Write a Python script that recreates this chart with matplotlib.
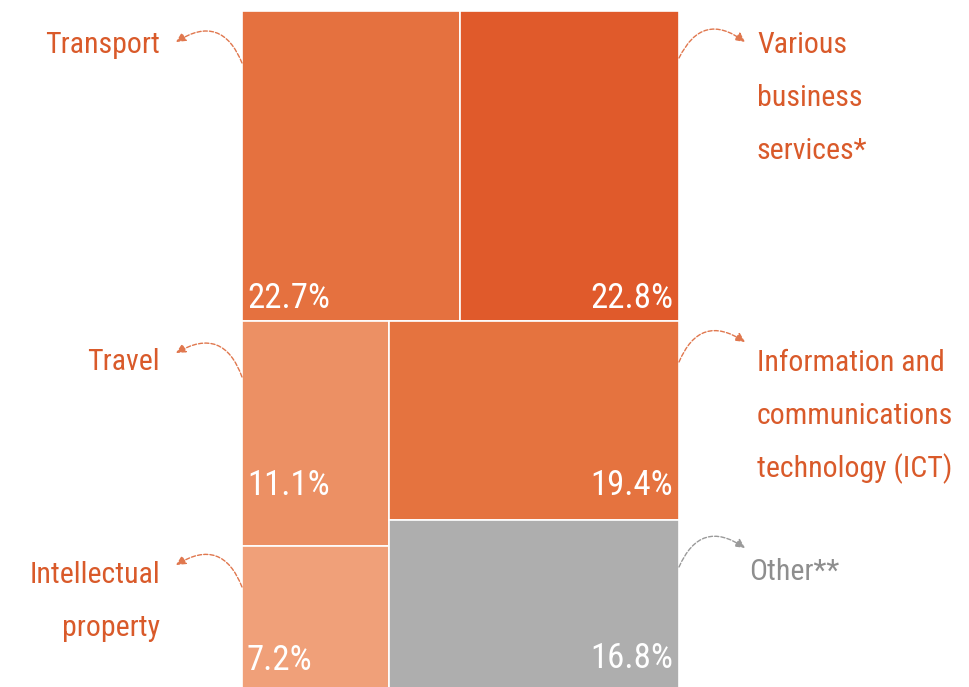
import matplotlib
matplotlib.use("Agg")
import matplotlib.pyplot as plt
from matplotlib import font_manager
from matplotlib.patches import Rectangle

# share of services exports by category (%)
categories = ["Transport", "Various business services*", "Travel",
              "Information and communications technology (ICT)",
              "Intellectual property", "Other**"]
shares = [22.7, 22.8, 11.1, 19.4, 7.2, 16.8]
label_lines = [["Transport"], ["Various", "business", "services*"], ["Travel"],
               ["Information and", "communications", "technology (ICT)"],
               ["Intellectual", "property"], ["Other**"]]
tile_colors = ["#E5713F", "#E05A2B", "#EC9064", "#E5733F", "#F0A079", "#AEAEAE"]
label_colors = ["#D95A2A", "#D95A2A", "#D95A2A", "#D95A2A", "#D95A2A", "#8E8E8E"]
arrow_colors = ["#E0774E", "#E0774E", "#E0774E", "#E0774E", "#E0774E", "#9A9A9A"]

# pick a narrow font if one is installed
names = {f.name for f in font_manager.fontManager.ttflist}
font_kw = {"family": "Liberation Sans"}
for cand in ["Roboto Condensed", "Open Sans Condensed", "Liberation Sans Narrow",
             "Noto Sans Condensed", "DejaVu Sans Condensed"]:
    if cand in names:
        font_kw = {"family": cand}
        break
else:
    if any(f.name == "DejaVu Sans" and f.stretch == "condensed"
           for f in font_manager.fontManager.ttflist):
        font_kw = {"family": "DejaVu Sans", "fontstretch": "condensed"}
FS_PCT = 25
FS_NAME = 21.5


def layout(x0, y0, x1, y1):
    # top row: transport | business services; below: two columns
    rects = [None] * 6
    total = sum(shares)
    top = shares[0] + shares[1]
    ym = y0 + (y1 - y0) * top / total
    xs = x0 + (x1 - x0) * shares[0] / top
    rects[0] = (x0, y0, xs - x0, ym - y0)
    rects[1] = (xs, y0, x1 - xs, ym - y0)
    left = shares[2] + shares[4]
    right = shares[3] + shares[5]
    xc = x0 + (x1 - x0) * left / (left + right)
    yl = ym + (y1 - ym) * shares[2] / left
    yr = ym + (y1 - ym) * shares[3] / right
    rects[2] = (x0, ym, xc - x0, yl - ym)
    rects[4] = (x0, yl, xc - x0, y1 - yl)
    rects[3] = (xc, ym, x1 - xc, yr - ym)
    rects[5] = (xc, yr, x1 - xc, y1 - yr)
    return rects


fig = plt.figure(figsize=(9.7, 6.87), dpi=100)
ax = fig.add_axes([0, 0, 1, 1])
ax.set_xlim(0, 970)
ax.set_ylim(687, 0)
ax.axis("off")

rects = layout(242, 11, 679, 692)

# label placement (pixels): side, first baseline, arrow start y, arrow end y, pct baseline
side = ["left", "right", "left", "right", "left", "right"]
name_base = [53, 53, 370, 371, 583, 580]
arrow_y0 = [63, 58, 377, 362, 587, 567]
arrow_y1 = [42, 42, 353, 342, 565, 548]
pct_base = [308, 308, 495, 495, 670, 668]
LINE_H = 53

for i, (x, y, w, h) in enumerate(rects):
    ax.add_patch(Rectangle((x, y), w, h, facecolor=tile_colors[i],
                           edgecolor="white", lw=1.2))
    pct = f"{shares[i]:.1f}%"
    if side[i] == "left":
        ax.text(x + 5, pct_base[i], pct, color="white", fontsize=FS_PCT,
                ha="left", va="baseline", **font_kw)
        sx, ex, tx, ha = x, 176, 160, "right"
    else:
        ax.text(x + w - 6, pct_base[i], pct, color="white", fontsize=FS_PCT,
                ha="right", va="baseline", **font_kw)
        sx, ex, tx, ha = x + w, 745, 757 if i != 5 else 749, "left"
    for k, line in enumerate(label_lines[i]):
        ax.text(tx, name_base[i] + k * LINE_H, line, color=label_colors[i],
                fontsize=FS_NAME, ha=ha, va="baseline", **font_kw)
    rad = 0.6 if side[i] == "left" else -0.6
    ax.annotate("", xy=(ex, arrow_y1[i]), xytext=(sx, arrow_y0[i]),
                arrowprops=dict(arrowstyle="-|>,head_length=0.4,head_width=0.2",
                                connectionstyle=f"arc3,rad={rad}",
                                color=arrow_colors[i], lw=1.0,
                                linestyle=(0, (3, 1.5)), mutation_scale=14,
                                shrinkA=0, shrinkB=0))

fig.savefig("out.png", dpi=100)
